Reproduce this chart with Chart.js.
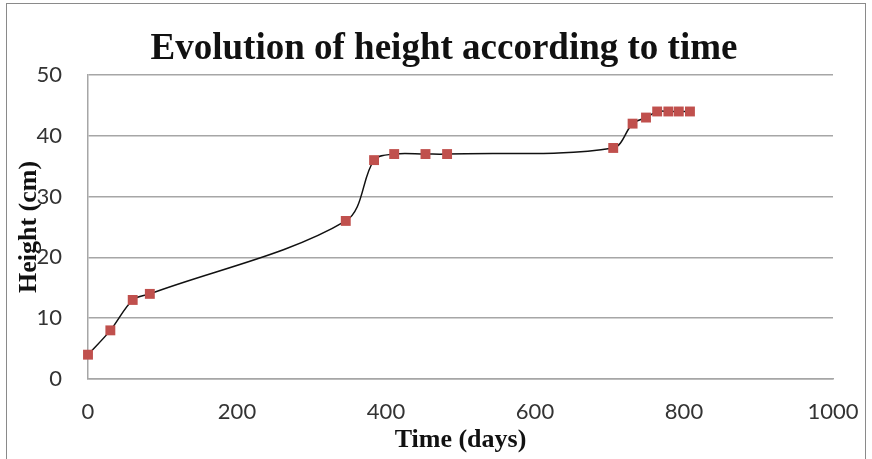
<!DOCTYPE html>
<html>
<head>
<meta charset="utf-8">
<script src="https://cdn.jsdelivr.net/npm/chart.js@4/dist/chart.umd.min.js"></script>
<style>
  body { margin: 0; background: #fff; }
  #wrap { position: relative; width: 872px; height: 459px; }
</style>
</head>
<body>
<div id="wrap"><canvas id="heightChart" width="872" height="459"></canvas></div>
<script>
// Measurements: day of observation and plant height (cm)
const days    = [0, 30, 60, 83, 346, 384, 411, 453, 482, 705, 731, 749, 764, 779, 793, 808];
const heights = [4, 8, 13, 14, 26, 36, 37, 37, 37, 38, 42, 43, 44, 44, 44, 44];

const xTicks = [0, 200, 400, 600, 800, 1000];
const yTicks = [0, 10, 20, 30, 40, 50];

const chartTitle = 'Evolution of height according to time';

const gridGrey = '#a6a6a6';
const tickFont = { family: 'Lato', size: 22 };
const serifFamily = '"Liberation Serif", "DejaVu Serif", serif';
const serifBold = { family: serifFamily, weight: 'bold' };

// thin grey frame around the whole chart
const frame = {
    id: 'frame',
    beforeDraw(chart) {
        const ctx = chart.ctx;
        ctx.save();
        ctx.strokeStyle = '#8a8a8a';
        ctx.lineWidth = 1;
        ctx.strokeRect(6.5, 3.5, 859, 520);
        ctx.restore();
    }
};

// main heading, sits a little right of the canvas centre
const heading = {
    id: 'heading',
    afterDraw(chart) {
        const ctx = chart.ctx;
        ctx.save();
        ctx.font = 'bold 37px ' + serifFamily;
        ctx.fillStyle = '#111';
        ctx.textAlign = 'center';
        ctx.textBaseline = 'middle';
        ctx.fillText(chartTitle, 444, 49);
        ctx.restore();
    }
};

const ctx = document.getElementById('heightChart').getContext('2d');

new Chart(ctx, {
    type: 'line',
    data: {
        datasets: [{
            data: days.map((d, i) => ({ x: d, y: heights[i] })),
            borderColor: '#111',
            borderWidth: 1.5,
            tension: 0.33,
            fill: false,
            clip: false,
            pointStyle: 'rect',
            pointRadius: 7,
            pointBackgroundColor: '#c0504d',
            pointBorderColor: '#c0504d',
            pointBorderWidth: 0
        }]
    },
    options: {
        responsive: false,
        animation: false,
        layout: { padding: { left: 0, right: 39, top: 75, bottom: 0 } },
        plugins: {
            legend: { display: false },
            tooltip: { enabled: false },
            title: { display: false }
        },
        scales: {
            x: {
                type: 'linear',
                min: 0,
                max: 1000,
                afterBuildTicks: s => { s.ticks = xTicks.map(v => ({ value: v })); },
                afterFit: s => { s.height = 80; s.paddingLeft = 0; s.paddingRight = 0; },
                grid: { drawOnChartArea: false, drawTicks: false },
                border: { color: gridGrey, width: 1.5 },
                ticks: { color: '#333', font: tickFont, padding: 20, maxRotation: 0, callback: v => String(v) },
                title: {
                    display: true,
                    text: 'Time (days)',
                    color: '#111',
                    font: { ...serifBold, size: 26 },
                    padding: { top: 0, bottom: 3 }
                }
            },
            y: {
                min: 0,
                max: 50,
                afterBuildTicks: s => { s.ticks = yTicks.map(v => ({ value: v })); },
                afterFit: s => { s.width = 88; },
                grid: { color: gridGrey, lineWidth: 1.5, drawTicks: false },
                border: { color: gridGrey, width: 1.5 },
                ticks: { color: '#333', font: tickFont, padding: 26, callback: v => String(v) },
                title: {
                    display: true,
                    text: 'Height (cm)',
                    color: '#111',
                    font: { ...serifBold, size: 26 },
                    padding: { top: 14, bottom: 0 }
                }
            }
        }
    },
    plugins: [frame, heading]
});
</script>
</body>
</html>
